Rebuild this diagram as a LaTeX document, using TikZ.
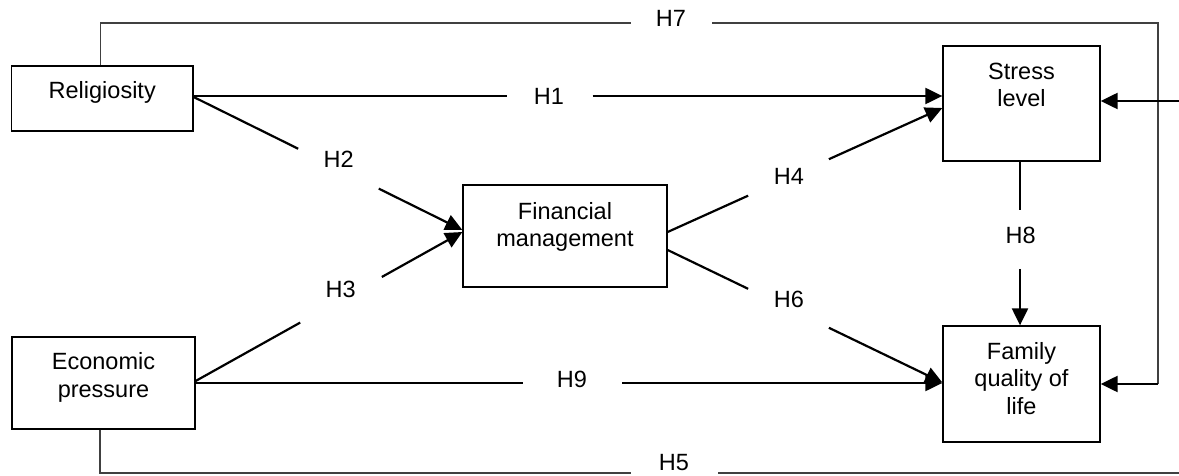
\documentclass[tikz,border=0pt]{standalone}
\usepackage{fontspec}
\setmainfont{Liberation Sans}
\usetikzlibrary{arrows.meta,calc}
\begin{document}
\begin{tikzpicture}[x=1pt,y=-1pt,
  box/.style={draw=black, line width=1.3pt, inner sep=0pt},
  txt/.style={font=\fontsize{23.5}{27.5}\selectfont, align=center, inner sep=0pt, anchor=base},
  hlab/.style={font=\fontsize{23.5}{27.5}\selectfont, inner sep=0pt},
  link/.style={line width=2.2pt},
  arr/.style={link, -{Triangle[length=17pt 0 0,width=16pt 0 0]}},
  thinlink/.style={line width=1.3pt, draw=black!75}
]
\useasboundingbox (0,0) rectangle (1179,476);

% boxes
\node[box, minimum width=181.5pt, minimum height=65pt] (rel) at (102.25,98.5) {};
\node[box, minimum width=183pt, minimum height=92pt] (eco) at (103.5,383) {};
\node[box, minimum width=204pt, minimum height=102pt] (fin) at (565,236) {};
\node[box, minimum width=157pt, minimum height=115pt] (str) at (1021.5,103.5) {};
\node[box, minimum width=157pt, minimum height=116pt] (fam) at (1021.5,384) {};

% box texts (base anchor = baseline of the last line)
\node[txt] (relt) at (102.25,99) {Religiosity};
\node[txt] (ecot) at (103.5,397) {Economic\\pressure};
\node[txt] (fint) at (565,246.5) {Financial\\management};
\node[txt] (strt) at (1021.5,107) {Stress\\level};
\node[txt] (famt) at (1021.5,414) {Family\\quality of\\life};

% hypothesis labels
\node[hlab] (l1) at (549,96) {H1};
\node[hlab] (l2) at (338.7,159) {H2};
\node[hlab] (l3) at (340.7,289) {H3};
\node[hlab] (l4) at (789,176) {H4};
\node[hlab] (l5) at (673.8,463) {H5};
\node[hlab] (l6) at (789,299) {H6};
\node[hlab] (l7) at (670.8,18.5) {H7};
\node[hlab] (l8) at (1020.7,235.7) {H8};
\node[hlab] (l9) at (572,379.5) {H9};

% H1
\coordinate (h1s) at ($(rel.east)+(0,-2.5)$);
\coordinate (h1e) at (str.west |- h1s);
\draw[link] (h1s) -- ($(h1s)!0.419!(h1e)$);
\draw[arr] ($(h1s)!0.533!(h1e)$) -- (h1e);

% H2
\coordinate (h2s) at ($(rel.east)+(0,-1.5)$);
\coordinate (h2e) at ($(fin.west)+(0,-6)$);
\draw[link] (h2s) -- ($(h2s)!0.389!(h2e)$);
\draw[arr] ($(h2s)!0.689!(h2e)$) -- (h2e);

% H3
\coordinate (h3s) at ($(eco.east)+(0,-2)$);
\coordinate (h3e) at ($(fin.west)+(0,-4)$);
\draw[link] (h3s) -- ($(h3s)!0.392!(h3e)$);
\draw[arr] ($(h3s)!0.698!(h3e)$) -- (h3e);

% H4
\coordinate (h4s) at ($(fin.east)+(0,-4)$);
\coordinate (h4e) at ($(str.west)+(0,4.5)$);
\draw[link] (h4s) -- ($(h4s)!0.293!(h4e)$);
\draw[arr] ($(h4s)!0.587!(h4e)$) -- (h4e);

% H6
\coordinate (h6s) at ($(fin.east)+(0,14)$);
\coordinate (h6e) at ($(fam.west)+(0,-1.5)$);
\draw[link] (h6s) -- ($(h6s)!0.293!(h6e)$);
\draw[arr] ($(h6s)!0.587!(h6e)$) -- (h6e);

% H9
\coordinate (h9s) at (eco.east);
\coordinate (h9e) at (fam.west |- h9s);
\draw[link] (h9s) -- ($(h9s)!0.4385!(h9e)$);
\draw[arr] ($(h9s)!0.571!(h9e)$) -- (h9e);

% H8
\coordinate (h8s) at ($(str.south)+(-1.5,0)$);
\coordinate (h8e) at (h8s |- fam.north);
\draw[link] (h8s) -- ($(h8s)!0.297!(h8e)$);
\draw[arr] ($(h8s)!0.655!(h8e)$) -- (h8e);

% H7
\coordinate (h7a) at (631,23);
\coordinate (h7b) at (712,23);
\coordinate (h7c) at (1158,23);
\coordinate (h7d) at (h7c |- fam.east);
\draw[thinlink] ($(rel.north)+(-2,0)$) |- (h7a);
\draw[thinlink] (h7b) -- (h7c) -- (h7d);
\draw[arr] (h7d) -- (fam.east);

% arrow into stress level from the right
\coordinate (sin) at (1179,101);
\draw[arr] (sin) -- (str.east |- sin);

% H5
\coordinate (h5a) at (631,473);
\coordinate (h5b) at (718,473);
\coordinate (h5c) at (1179,473);
\draw[thinlink] ($(eco.south)+(-3.5,0)$) |- (h5a);
\draw[thinlink] (h5b) -- (h5c);
\end{tikzpicture}
\end{document}
